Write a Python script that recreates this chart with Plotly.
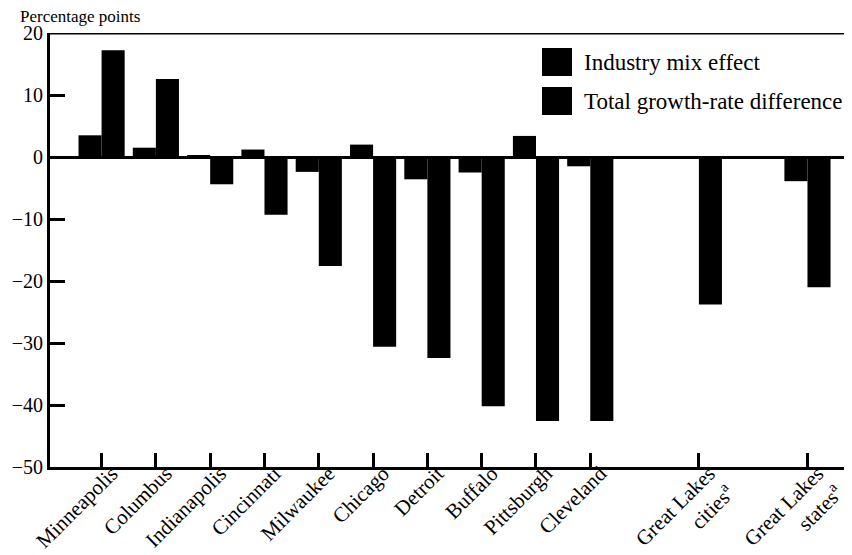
import plotly.graph_objects as go

categories = ["Minneapolis", "Columbus", "Indianapolis", "Cincinnati", "Milwaukee",
              "Chicago", "Detroit", "Buffalo", "Pittsburgh", "Cleveland",
              "Great Lakes cities", "Great Lakes states"]
tick_labels = ["Minneapolis", "Columbus", "Indianapolis", "Cincinnati", "Milwaukee",
               "Chicago", "Detroit", "Buffalo", "Pittsburgh", "Cleveland",
               "Great Lakes<br>cities<sup>a</sup>", "Great Lakes<br>states<sup>a</sup>"]
industry_mix = [3.5, 1.5, 0.2, 1.2, -2.4, 2.0, -3.6, -2.5, 3.4, -1.5, -0.3, -3.9]
total_growth = [17.2, 12.6, -4.4, -9.3, -17.6, -30.6, -32.4, -40.2, -42.6, -42.6, -23.8, -21.0]
series_names = ["Industry mix effect", "Total growth-rate difference"]

# positions: the two summary groups are set apart with a gap
positions = []
p = 0
for i, c in enumerate(categories):
    if c.startswith("Great Lakes") and i > 0:
        p += 1
    positions.append(p)
    p += 1

FONT = "Liberation Serif"
W, H = 852, 555
ML, MR, MT, MB = 42, 8, 25, 96
PW, PH = W - ML - MR, H - MT - MB

def px(xs):
    return (xs - ML) / PW

def py(ys):
    return 1 - (ys - MT) / PH

fig = go.Figure()
fig.add_trace(go.Bar(x=positions, y=industry_mix, name=series_names[0],
                     marker=dict(color="black", line=dict(width=0)), showlegend=False))
fig.add_trace(go.Bar(x=positions, y=total_growth, name=series_names[1],
                     marker=dict(color="black", line=dict(width=0)), showlegend=False))

fig.update_layout(
    width=W, height=H,
    margin=dict(l=ML, r=MR, t=MT, b=MB),
    paper_bgcolor="white", plot_bgcolor="white",
    barmode="group", bargap=0.15, bargroupgap=0,
    font=dict(family=FONT, color="black", size=19),
    xaxis=dict(range=[-0.95, 13.82], tickmode="array", tickvals=positions,
               ticktext=tick_labels, tickangle=-45, ticks="inside", ticklen=14,
               tickwidth=3, tickcolor="black", showline=True, linewidth=3,
               linecolor="black", showgrid=False, zeroline=False, automargin=False,
               ticklabelstandoff=-17, ticklabelshift=10,
               tickfont=dict(family=FONT, size=21)),
    yaxis=dict(range=[-50, 20], tickmode="array", tickvals=[-50, -40, -30, -20, -10, 0, 10, 20],
               ticks="inside", ticklen=15, tickwidth=3, tickcolor="black",
               showline=True, linewidth=3, linecolor="black", showgrid=False,
               zeroline=True, zerolinewidth=3, zerolinecolor="black", automargin=False,
               tickfont=dict(family=FONT, size=20)),
)

# top border line at y=20
fig.add_shape(type="line", xref="paper", yref="y", x0=0, x1=1, y0=20, y1=20,
              line=dict(color="black", width=3))

# axis unit label
fig.add_annotation(text="Percentage points", xref="paper", yref="paper",
                   x=px(10), y=py(8.5), xanchor="left", yanchor="middle",
                   showarrow=False, font=dict(family=FONT, size=17))

# manual legend with large square swatches
legend_rows = [(54, series_names[0]), (93, series_names[1])]
for yc, name in legend_rows:
    fig.add_shape(type="rect", xref="paper", yref="paper",
                  x0=px(534), x1=px(564), y0=py(yc + 14), y1=py(yc - 14),
                  fillcolor="black", line=dict(width=0))
    fig.add_annotation(text=name, xref="paper", yref="paper",
                       x=px(574), y=py(yc),
                       xanchor="left", yanchor="middle", showarrow=False,
                       font=dict(family=FONT, size=23))

fig.write_html("out.html")
